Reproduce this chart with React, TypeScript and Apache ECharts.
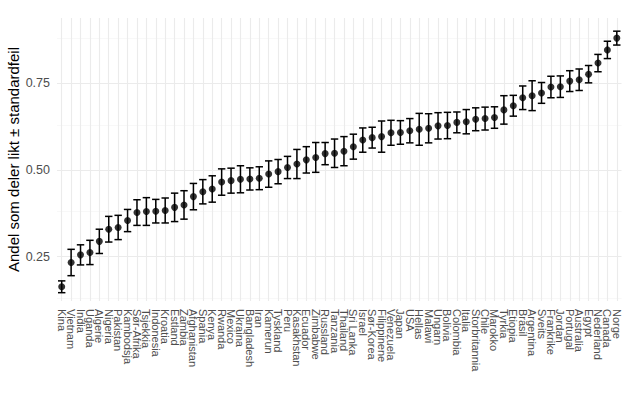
import React, { useEffect, useRef } from "react";
import * as echarts from "echarts";

const countries = [
  "Kina", "Vietnam", "India", "Uganda", "Algerie", "Nigeria", "Pakistan", "Kambodsja", "Sør-Afrika", "Tsjekkia",
  "Indonesia", "Kroatia", "Estland", "Zambia", "Afghanistan", "Spania", "Kenya", "Rwanda", "Mexico", "Ukraina",
  "Bangladesh", "Iran", "Kamerun", "Tyskland", "Peru", "Kasakhstan", "Ecuador", "Zimbabwe", "Russland", "Tanzania",
  "Thailand", "Sri Lanka", "Israel", "Sør-Korea", "Filippinene", "Venezuela", "Japan", "USA", "Hellas", "Malawi",
  "Ungarn", "Bolivia", "Colombia", "Italia", "Storbritannia", "Chile", "Marokko", "Tyrkia", "Etiopia", "Brasil",
  "Argentina", "Sveits", "Frankrike", "Jordan", "Portugal", "Australia", "Egypt", "Nederland", "Canada", "Norge",
];

const means = [
  0.163, 0.233, 0.255, 0.262, 0.294, 0.329, 0.334, 0.354, 0.377, 0.380,
  0.381, 0.383, 0.392, 0.399, 0.423, 0.437, 0.445, 0.465, 0.469, 0.473,
  0.474, 0.476, 0.488, 0.495, 0.507, 0.517, 0.529, 0.536, 0.547, 0.548,
  0.554, 0.567, 0.586, 0.593, 0.596, 0.607, 0.608, 0.613, 0.617, 0.620,
  0.627, 0.628, 0.637, 0.639, 0.646, 0.648, 0.651, 0.673, 0.685, 0.708,
  0.714, 0.722, 0.739, 0.740, 0.756, 0.760, 0.776, 0.808, 0.846, 0.880,
];

const stdErrors = [
  0.017, 0.038, 0.029, 0.035, 0.035, 0.037, 0.035, 0.032, 0.037, 0.040,
  0.034, 0.036, 0.041, 0.041, 0.038, 0.035, 0.038, 0.038, 0.036, 0.039,
  0.032, 0.033, 0.038, 0.035, 0.032, 0.042, 0.038, 0.043, 0.032, 0.041,
  0.042, 0.036, 0.035, 0.030, 0.045, 0.036, 0.034, 0.035, 0.046, 0.042,
  0.038, 0.038, 0.030, 0.035, 0.033, 0.033, 0.031, 0.041, 0.030, 0.034,
  0.043, 0.030, 0.031, 0.031, 0.030, 0.031, 0.025, 0.025, 0.025, 0.020,
];

const yTickLabels = [0.25, 0.5, 0.75];
const yMinorGrid = [0.125, 0.375, 0.625, 0.875];
const yTitle = "Andel som deler likt ± standardfeil";

export default function App() {
  const ref = useRef<HTMLDivElement>(null);

  useEffect(() => {
    if (!ref.current) return;
    const chart = echarts.init(ref.current, null, { renderer: "svg" });

    const errData = countries.map((c, i) => [i, means[i] - stdErrors[i], means[i] + stdErrors[i]]);

    const gridLines: any[] = [];
    yTickLabels.forEach((v) =>
      gridLines.push({ yAxis: v, lineStyle: { color: "#ebebeb", width: 1.1, type: "solid" } })
    );
    yMinorGrid.forEach((v) =>
      gridLines.push({ yAxis: v, lineStyle: { color: "#f3f3f3", width: 0.6, type: "solid" } })
    );
    countries.forEach((c) =>
      gridLines.push({ xAxis: c, lineStyle: { color: "#ebebeb", width: 1.1, type: "solid" } })
    );

    chart.setOption({
      animation: false,
      backgroundColor: "#ffffff",
      grid: { left: 57, right: 8.5, top: 18, bottom: 93, containLabel: false, outerBoundsMode: "none" },
      xAxis: {
        type: "category",
        data: countries,
        boundaryGap: true,
        axisLine: { show: false },
        axisTick: { show: false },
        splitLine: { show: false },
        axisLabel: {
          interval: 0,
          rotate: -90,
          margin: 8,
          color: "#4d4d4d",
          fontSize: 11,
          fontFamily: "Liberation Sans, Arial, sans-serif",
        },
      },
      yAxis: {
        type: "value",
        min: 0.122,
        max: 0.938,
        axisLine: { show: false },
        axisTick: { show: false },
        splitLine: { show: false },
        axisLabel: {
          customValues: yTickLabels,
          formatter: (v: number) => v.toFixed(2),
          color: "#4d4d4d",
          fontSize: 12.5,
          margin: 7,
          fontFamily: "Liberation Sans, Arial, sans-serif",
        },
        name: yTitle,
        nameLocation: "middle",
        nameGap: 36,
        nameRotate: 90,
        nameMoveOverlap: false,
        nameTextStyle: {
          color: "#000000",
          fontSize: 15,
          fontFamily: "Liberation Sans, Arial, sans-serif",
        },
      },
      series: [
        {
          type: "line",
          data: [],
          z: 1,
          silent: true,
          markLine: {
            silent: true,
            symbol: ["none", "none"],
            label: { show: false },
            data: gridLines,
          },
        },
        {
          type: "custom",
          z: 5,
          silent: true,
          data: errData,
          encode: { x: 0, y: [1, 2] },
          renderItem: (params: any, api: any) => {
            const x = api.value(0);
            const lo = api.coord([x, api.value(1)]);
            const hi = api.coord([x, api.value(2)]);
            const half = 3.7;
            const style = { stroke: "#000000", lineWidth: 1.5, fill: "none" };
            return {
              type: "group",
              children: [
                { type: "line", shape: { x1: lo[0], y1: lo[1], x2: hi[0], y2: hi[1] }, style },
                { type: "line", shape: { x1: lo[0] - half, y1: lo[1], x2: lo[0] + half, y2: lo[1] }, style },
                { type: "line", shape: { x1: hi[0] - half, y1: hi[1], x2: hi[0] + half, y2: hi[1] }, style },
              ],
            };
          },
        },
        {
          type: "scatter",
          z: 10,
          silent: true,
          symbol: "circle",
          symbolSize: 7,
          itemStyle: { color: "#000000" },
          data: means.map((m, i) => [i, m]),
        },
      ],
    });

    return () => chart.dispose();
  }, []);

  return (
    <div
      ref={ref}
      style={{ position: "fixed", left: 0, top: 0, width: 630, height: 394, background: "#fff" }}
    />
  );
}
